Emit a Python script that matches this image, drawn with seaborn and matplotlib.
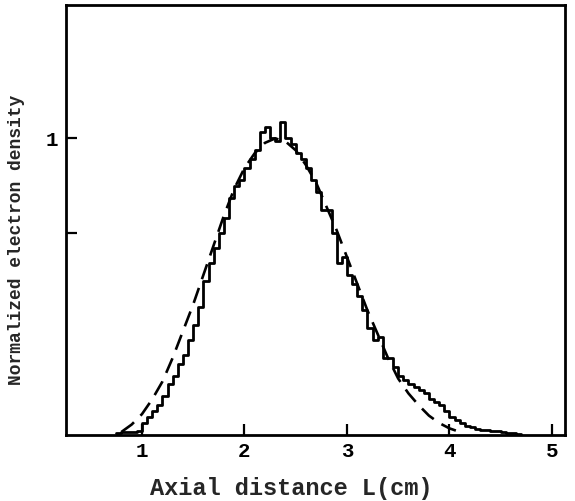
import numpy as np
import pandas as pd
import matplotlib
matplotlib.use("Agg")
import matplotlib.pyplot as plt
import seaborn as sns

sns.set_style("white")
plt.rcParams['font.family'] = ['Liberation Mono', 'DejaVu Sans Mono']
plt.rcParams['font.weight'] = 'bold'

# histogram of measured density (bin left edges, width 0.05 cm)
hist_start = 0.75
bin_width = 0.05
hist_heights = [
    0.005, 0.008, 0.010, 0.010, 0.012, 0.040, 0.060, 0.080, 0.100, 0.130,
    0.170, 0.200, 0.240, 0.270, 0.320, 0.370, 0.430, 0.520, 0.580, 0.630,
    0.680, 0.730, 0.800, 0.840, 0.860, 0.900, 0.930, 0.960, 1.020, 1.040,
    1.000, 0.990, 1.055, 1.000, 0.980, 0.950, 0.930, 0.900, 0.860, 0.820,
    0.760, 0.760, 0.680, 0.580, 0.600, 0.540, 0.510, 0.470, 0.420, 0.360,
    0.320, 0.330, 0.260, 0.260, 0.230, 0.200, 0.185, 0.170, 0.160, 0.150,
    0.140, 0.120, 0.110, 0.100, 0.080, 0.060, 0.050, 0.040, 0.030, 0.025,
    0.020, 0.018, 0.015, 0.012, 0.014, 0.010, 0.007, 0.005, 0.003,
]

# dashed fitted curve
fit_x = [0.8, 0.9, 1.0, 1.1, 1.2, 1.3, 1.4, 1.5, 1.6, 1.7, 1.8, 1.9, 2.0,
         2.1, 2.2, 2.3, 2.4, 2.5, 2.6, 2.7, 2.8, 2.9, 3.0, 3.1, 3.2, 3.3,
         3.4, 3.5, 3.6, 3.7, 3.8, 3.9, 4.0, 4.1]
fit_y = [0.01, 0.035, 0.07, 0.12, 0.18, 0.26, 0.35, 0.44, 0.54, 0.64, 0.74,
         0.83, 0.90, 0.95, 0.985, 1.0, 0.99, 0.96, 0.91, 0.85, 0.77, 0.69,
         0.60, 0.51, 0.42, 0.34, 0.26, 0.19, 0.14, 0.10, 0.065, 0.04, 0.022,
         0.01]

n_bins = len(hist_heights)
centers = hist_start + bin_width * (np.arange(n_bins) + 0.5)
df_hist = pd.DataFrame({'L': centers, 'n': hist_heights})
df_fit = pd.DataFrame({'L': fit_x, 'n': fit_y})

fig = plt.figure(figsize=(5.75, 5.01), dpi=100)
ax = fig.add_axes([0.115, 0.132, 0.868, 0.858])

sns.histplot(data=df_hist, x='L', weights='n', binwidth=bin_width,
             binrange=(hist_start, hist_start + bin_width * n_bins),
             element='step', fill=False, color='black', linewidth=2.0, ax=ax)
sns.lineplot(data=df_fit, x='L', y='n', color='black', linewidth=1.9, ax=ax)
ax.lines[-1].set_linestyle((0, (6, 3.5)))

ax.set_xlim(0.26, 5.13)
ax.set_ylim(0, 1.45)
ax.set_xticks([1, 2, 3, 4, 5])
ax.set_xticklabels(['1', '2', '3', '4', '5'])
ax.set_yticks([0.68, 1.0])
ax.set_yticklabels(['', '1'])
ax.tick_params(axis='both', direction='in', length=8, width=1.6,
               labelsize=15, colors='black', bottom=True, left=True)
ax.tick_params(axis='x', pad=5)
ax.tick_params(axis='y', pad=6)
for s in ax.spines.values():
    s.set_linewidth(2.0)
    s.set_color('black')

ax.set_xlabel('Axial distance L(cm)', fontsize=17, fontweight='bold')
ax.xaxis.set_label_coords(0.451, -0.098)
ax.set_ylabel('Normalized electron density', fontsize=13, fontweight='bold')
ax.yaxis.set_label_coords(-0.082, 0.453)

fig.savefig('out.png', dpi=100)
